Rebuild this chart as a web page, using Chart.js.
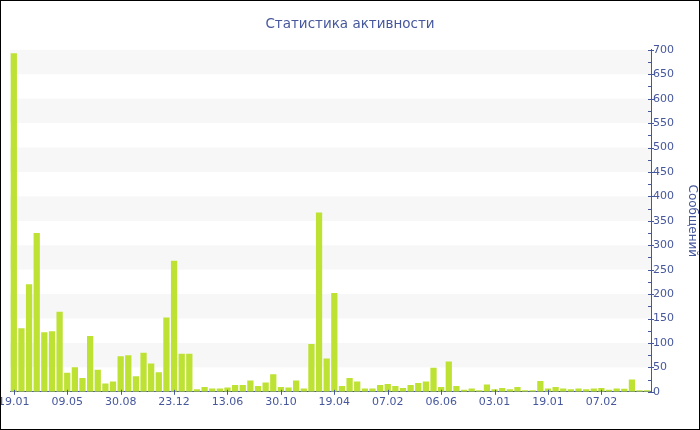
<!DOCTYPE html>
<html>
<head>
<meta charset="utf-8">
<script src="https://cdn.jsdelivr.net/npm/chart.js@4"></script>
<style>
body { margin: 0; background: #fff; }
#wrap { width: 698px; height: 428px; border: 1px solid #000; }
</style>
</head>
<body>
<div id="wrap"><canvas id="activity" width="698" height="428"></canvas></div>
<script>
// сообщения по неделям
var messages = [693, 130, 220, 325, 122, 124, 164, 39, 50, 28,
    114, 45, 17, 21, 73, 75, 32, 80, 58, 40,
    152, 268, 78, 78, 5, 10, 7, 7, 9, 14,
    14, 23, 12, 19, 36, 10, 9, 23, 7, 98,
    367, 68, 202, 12, 28, 21, 7, 7, 14, 16,
    12, 8, 14, 18, 21, 49, 10, 62, 12, 4,
    7, 3, 15, 5, 8, 5, 10, 3, 3, 22,
    7, 10, 7, 5, 7, 5, 7, 8, 4, 7,
    6, 25, 3, 3]
var tickLabels = ['19.01', '09.05', '30.08', '23.12', '13.06', '30.10',
    '19.04', '07.02', '06.06', '03.01', '19.01', '07.02']
var labelEvery = 7

var blue = '#46579c'
var categories = messages.map(function (v, i) {
    return i % labelEvery === 0 ? tickLabels[i / labelEvery] : ''
})

// полосы фона и риски на осях
var bands = {
    id: 'bands',
    beforeDatasetsDraw: function (chart) {
        var ctx = chart.ctx, a = chart.chartArea, y = chart.scales.y
        ctx.save()
        ctx.fillStyle = '#f7f7f7'
        for (var v = 50; v < 700; v += 100) {
            var top = y.getPixelForValue(v + 50), bot = y.getPixelForValue(v)
            ctx.fillRect(a.left, top, a.right - a.left, bot - top)
        }
        ctx.restore()
    },
    afterDraw: function (chart) {
        var ctx = chart.ctx, a = chart.chartArea, y = chart.scales.y, x = chart.scales.x
        ctx.save()
        ctx.strokeStyle = blue
        ctx.lineWidth = 1
        ctx.beginPath()
        for (var v = 0; v <= 700; v += 25) {
            var py = Math.round(y.getPixelForValue(v)) + 0.5
            if (v % 50 === 0) {
                ctx.moveTo(a.right - 3, py); ctx.lineTo(a.right + 3, py)
            } else {
                ctx.moveTo(a.right - 3, py); ctx.lineTo(a.right, py)
            }
        }
        for (var i = 0; i < messages.length; i += labelEvery) {
            var px = Math.round(x.getPixelForValue(i)) + 0.5
            ctx.moveTo(px, a.bottom - 2); ctx.lineTo(px, a.bottom + 3)
        }
        ctx.stroke()
        ctx.restore()
    }
}

Chart.defaults.font.family = '"DejaVu Sans", Verdana, sans-serif'
Chart.defaults.color = blue

var ctx = document.getElementById('activity').getContext('2d');
var chart = new Chart(ctx, {
    type: 'bar',
    data: {
        labels: categories,
        datasets: [{
            data: messages,
            backgroundColor: '#bde233',
            borderWidth: 0,
            barPercentage: 0.82,
            categoryPercentage: 1
        }]
    },
    options: {
        responsive: false,
        animation: false,
        layout: { padding: { left: 0, right: 0, top: 0, bottom: 16 } },
        plugins: {
            legend: { display: false },
            tooltip: { enabled: false },
            title: {
                display: true,
                text: 'Статистика активности',
                color: blue,
                font: { size: 13.5, weight: 'normal' },
                padding: { top: 15.8, bottom: 16.8 }
            }
        },
        scales: {
            x: {
                grid: { display: false, drawTicks: false },
                border: { display: true, color: blue },
                ticks: {
                    autoSkip: false,
                    maxRotation: 0,
                    padding: 4,
                    font: { size: 11 },
                    color: blue
                },
                afterFit: function (scale) {
                    scale.paddingLeft = 0
                    scale.paddingRight = 0
                }
            },
            // пустой отступ слева, чтобы заголовок остался по центру
            spacer: {
                type: 'linear',
                position: 'left',
                grid: { display: false, drawTicks: false },
                border: { display: false },
                ticks: { display: false },
                afterFit: function (scale) { scale.width = 9 }
            },
            y: {
                position: 'right',
                min: 0,
                max: 700,
                grid: { display: false, drawTicks: false },
                border: { display: true, color: blue },
                ticks: { stepSize: 50, padding: 2, font: { size: 11 }, color: blue },
                title: {
                    display: true,
                    text: 'Сообщений',
                    color: blue,
                    font: { size: 12 },
                    padding: { top: 0, bottom: 0 }
                },
                afterFit: function (scale) { scale.width = 48 }
            }
        }
    },
    plugins: [bands]
});
</script>
</body>
</html>
